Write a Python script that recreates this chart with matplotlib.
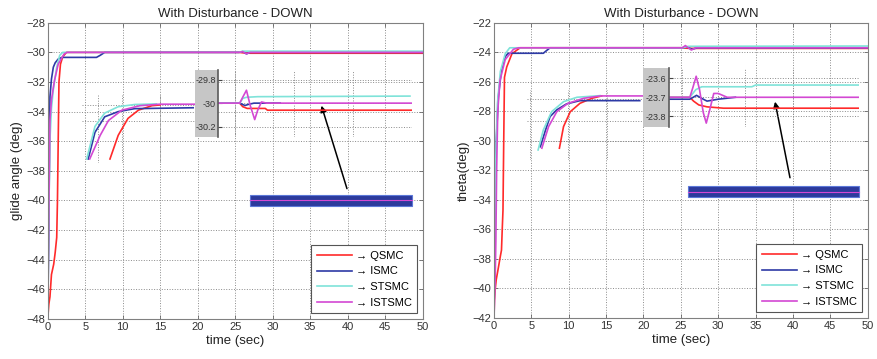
import matplotlib
matplotlib.use('Agg')
import matplotlib.pyplot as plt
from matplotlib.patches import Rectangle

plt.rcParams['font.family'] = ['Liberation Sans', 'DejaVu Sans']

# ---------------- data ----------------
methods = ['QSMC', 'ISMC', 'STSMC', 'ISTSMC']
colors = ['#ff2a2a', '#2d3aa6', '#7fe3d9', '#d348d3']
x_ticks = [0, 5, 10, 15, 20, 25, 30, 35, 40, 45, 50]
ga_yticks = list(range(-48, -27, 2))
th_yticks = list(range(-42, -21, 2))

# glide angle - main curves
ga_qsmc_t = [0, 0.15, 0.3, 0.5, 0.8, 1.0, 1.2, 1.3, 1.4, 1.5, 1.7, 2.0, 2.5, 25.5, 26.0, 27.0, 50]
ga_qsmc = [-48, -47, -46.5, -45.0, -44.3, -43.5, -42.5, -40, -36, -32, -30.8, -30.3, -30.0, -30.0, -30.03, -30.06, -30.06]
ga_ismc_t = [0, 0.15, 0.3, 0.5, 0.75, 1.0, 1.4, 1.9, 6.5, 7.0, 7.6, 25.5, 26.0, 26.5, 27.0, 50]
ga_ismc = [-48, -42, -33, -31.8, -31.0, -30.7, -30.45, -30.34, -30.34, -30.2, -30.0, -30.0, -29.95, -30.1, -30.0, -30.0]
ga_stsmc_t = [0, 0.1, 0.2, 0.3, 0.5, 0.75, 1.2, 1.6, 2.0, 25.5, 26.0, 50]
ga_stsmc = [-48, -43, -39, -35.9, -33.8, -32.5, -31.0, -30.2, -30.0, -30.0, -29.92, -29.92]
ga_istsmc_t = [0, 0.1, 0.2, 0.3, 0.5, 0.9, 1.4, 2.2, 2.6, 25.5, 26.0, 26.5, 27.0, 50]
ga_istsmc = [-48, -43, -38.4, -34.6, -33.2, -31.9, -30.8, -30.1, -30.0, -30.0, -29.95, -30.1, -30.0, -30.0]

# glide angle - zoom of initial response
ga_z1_qsmc_t = [8.3, 9.4, 10.7, 12.1, 13.9, 15.0]
ga_z1_qsmc = [-37.2, -35.6, -34.46, -33.9, -33.6, -33.55]
ga_z1_ismc_t = [5.4, 6.3, 7.6, 9.4, 11.6, 19.4]
ga_z1_ismc = [-37.2, -35.4, -34.35, -34.0, -33.8, -33.74]
ga_z1_stsmc_t = [5.2, 6.3, 7.6, 9.4, 11.6, 14.5]
ga_z1_stsmc = [-37.2, -35.0, -34.1, -33.67, -33.52, -33.48]
ga_z1_istsmc_t = [5.6, 7.0, 8.1, 9.9, 12.3, 14.9, 22.7]
ga_z1_istsmc = [-37.2, -35.6, -34.6, -33.9, -33.6, -33.5, -33.5]

# glide angle - zoom of disturbance
ga_z2_qsmc_t = [22.7, 25.6, 26.0, 26.6, 29.0, 29.3, 48.6]
ga_z2_qsmc = [-30.0, -30.0, -30.03, -30.045, -30.045, -30.06, -30.06]
ga_z2_ismc_t = [22.7, 25.6, 26.3, 26.8, 27.5, 28.5, 31.0]
ga_z2_ismc = [-30.0, -30.0, -30.02, -30.01, -30.0, -30.0, -30.0]
ga_z2_stsmc_t = [22.7, 25.6, 26.0, 26.5, 28.0, 48.3]
ga_z2_stsmc = [-30.0, -30.0, -29.96, -29.95, -29.945, -29.94]
ga_z2_istsmc_t = [22.7, 25.6, 26.0, 26.5, 27.0, 27.6, 28.0, 28.5, 29.2, 48.6]
ga_z2_istsmc = [-30.0, -30.0, -29.95, -29.89, -30.02, -30.14, -30.06, -29.99, -30.0, -30.0]
ga_z2_ticks = [-30.2, -30.0, -29.8]
ga_z2_ticklabels = ['-30.2', '-30', '-29.8']

# theta - main curves
th_qsmc_t = [0, 0.05, 0.15, 0.3, 0.58, 0.8, 1.0, 1.1, 1.2, 1.3, 1.4, 1.7, 2.4, 3.5, 25.2, 25.8, 26.5, 50]
th_qsmc = [-42, -40.8, -40.1, -39.4, -38.6, -37.95, -37.4, -36.0, -34.7, -30.0, -25.7, -25.0, -24.1, -23.7, -23.7, -23.73, -23.74, -23.74]
th_ismc_t = [0, 0.1, 0.3, 0.58, 1.0, 1.5, 1.9, 6.6, 7.0, 7.5, 25.2, 25.8, 26.5, 27.2, 50]
th_ismc = [-42, -36, -30, -27.0, -25.2, -24.3, -24.07, -24.07, -23.9, -23.7, -23.7, -23.65, -23.8, -23.7, -23.7]
th_stsmc_t = [0, 0.1, 0.25, 0.45, 0.85, 1.5, 2.1, 25.2, 26.0, 50]
th_stsmc = [-42, -36, -31, -27.5, -25.3, -24.1, -23.7, -23.7, -23.6, -23.58]
th_istsmc_t = [0, 0.15, 0.25, 0.35, 0.5, 0.8, 1.5, 2.6, 3.3, 25.2, 25.6, 26.4, 27.0, 50]
th_istsmc = [-42, -39.5, -36.7, -32, -28.0, -25.9, -24.5, -23.8, -23.7, -23.7, -23.55, -23.85, -23.7, -23.7]

# theta - zoom of initial response
th_z1_qsmc_t = [8.75, 9.3, 10.2, 11.5, 13.1, 14.4]
th_z1_qsmc = [-30.5, -29.04, -28.03, -27.46, -27.12, -26.96]
th_z1_ismc_t = [6.2, 6.9, 7.5, 8.4, 9.7, 11.5, 19.5]
th_z1_ismc = [-30.4, -29.26, -28.36, -27.9, -27.5, -27.28, -27.28]
th_z1_stsmc_t = [5.9, 6.6, 7.7, 9.3, 11.1, 14.2]
th_z1_stsmc = [-30.62, -29.26, -28.03, -27.35, -27.05, -26.94]
th_z1_istsmc_t = [6.4, 7.3, 8.4, 9.9, 12.0, 14.2, 23.3]
th_z1_istsmc = [-30.5, -29.04, -28.03, -27.46, -27.12, -26.96, -26.96]

# theta - zoom of disturbance
th_z2_qsmc_t = [23.3, 26.2, 26.7, 27.4, 28.5, 30.7, 48.9]
th_z2_qsmc = [-23.7, -23.7, -23.72, -23.74, -23.75, -23.757, -23.757]
th_z2_ismc_t = [23.3, 26.2, 27.1, 28.0, 28.5, 30.0, 32.3]
th_z2_ismc = [-23.71, -23.71, -23.69, -23.71, -23.72, -23.71, -23.70]
th_z2_stsmc_t = [23.3, 26.2, 27.0, 27.8, 34.5, 35.0, 48.9]
th_z2_stsmc = [-23.7, -23.7, -23.66, -23.645, -23.645, -23.636, -23.636]
th_z2_istsmc_t = [23.3, 26.2, 26.6, 27.05, 27.5, 28.0, 28.4, 28.9, 29.4, 30.0, 30.6, 31.2, 48.9]
th_z2_istsmc = [-23.7, -23.7, -23.65, -23.59, -23.66, -23.78, -23.835, -23.76, -23.68, -23.68, -23.69, -23.7, -23.7]
th_z2_ticks = [-23.8, -23.7, -23.6]
th_z2_ticklabels = ['-23.8', '-23.7', '-23.6']

# ---------------- drawing ----------------
GRID = dict(color='#8a8a8a', linestyle=':', linewidth=0.7)
LW = 1.2

fig = plt.figure(figsize=(8.77, 3.59), dpi=100)


def style_main(ax, yticks, ylabel):
    ax.set_xlim(0, 50)
    ax.set_ylim(yticks[0], yticks[-1])
    ax.set_xticks(x_ticks)
    ax.set_yticks(yticks)
    ax.grid(True, **GRID)
    ax.tick_params(direction='in', length=3, width=0.6, color='#666666',
                   labelsize=8, labelcolor='#333333', top=True, right=True, pad=2)
    for s in ax.spines.values():
        s.set_color('#808080')
        s.set_linewidth(0.8)
    ax.set_title('With Disturbance - DOWN', fontsize=9.5, color='#222222', pad=4)
    ax.set_xlabel('time (sec)', fontsize=9.5, color='#222222', labelpad=2)
    ax.set_ylabel(ylabel, fontsize=9.5, color='#222222', labelpad=2)


def style_zoom(axz, xlim, ylim, xg, yg):
    axz.set_xlim(*xlim)
    axz.set_ylim(*ylim)
    axz.set_facecolor('none')
    for s in axz.spines.values():
        s.set_visible(False)
    axz.set_xticks(xg)
    axz.set_yticks(yg)
    axz.tick_params(length=0, labelbottom=False, labelleft=False)
    axz.grid(True, **GRID)


def panel(ax, main, z1, z2, yticks, ylabel, z1_box, z1_xg, z1_yg,
          z2_box, z2_ylim, z2_xg, z2_ticks, z2_labels, gray_box,
          arrow_head, arrow_tail, bar):
    style_main(ax, yticks, ylabel)
    lines = []
    for (t, v), c, m in zip(main, colors, methods):
        ln, = ax.plot(t, v, color=c, lw=LW, label='\u2192 ' + m)
        lines.append(ln)

    # zoom of initial response
    x0, y0, w, h = z1_box
    a1 = ax.inset_axes([x0, y0, w, h], transform=ax.transData)
    style_zoom(a1, (x0, x0 + w), (y0, y0 + h), z1_xg, z1_yg)
    for (t, v), c in zip(z1, colors):
        a1.plot(t, v, color=c, lw=LW)

    # gray label box
    gx, gy, gw, gh = gray_box
    ax.add_patch(Rectangle((gx, gy), gw, gh, facecolor='#c6c6c6',
                           edgecolor='none', zorder=6))

    # zoom of disturbance
    x0, y0, w, h = z2_box
    a2 = ax.inset_axes([x0, y0, w, h], transform=ax.transData, zorder=7)
    style_zoom(a2, (x0, x0 + w), z2_ylim, z2_xg, z2_ticks)
    a2.spines['left'].set_visible(True)
    a2.spines['left'].set_color('#5a5a5a')
    a2.spines['left'].set_linewidth(1.2)
    a2.set_yticks(z2_ticks)
    a2.set_yticklabels(z2_labels)
    a2.tick_params(axis='y', labelleft=True, length=3, direction='in',
                   width=0.8, color='#444444', labelsize=6.5,
                   labelcolor='#333333', pad=1.5)
    for (t, v), c in zip(z2, colors):
        a2.plot(t, v, color=c, lw=LW)

    # arrow
    ax.annotate('', xy=arrow_head, xytext=arrow_tail,
                arrowprops=dict(arrowstyle='-|>', color='black', lw=1.1,
                                mutation_scale=9, shrinkA=0, shrinkB=0))

    # highlight bar
    bx0, bx1, by0, by1 = bar
    ax.add_patch(Rectangle((bx0, by0), bx1 - bx0, by1 - by0,
                           facecolor='#2c3a9c', edgecolor='#5c78d8',
                           lw=0.8, zorder=4))
    ax.plot([bx0, bx1], [(by0 + by1) / 2] * 2, color=colors[3], lw=0.8, zorder=5)

    leg = ax.legend(handles=lines, loc='lower right', bbox_to_anchor=(0.985, 0.02),
                    borderaxespad=0, fontsize=8, handlelength=3.2,
                    handletextpad=0.3, labelspacing=0.5, fancybox=False,
                    framealpha=1, edgecolor='#555555', borderpad=0.5)
    leg.get_frame().set_linewidth(0.8)
    leg.set_zorder(10)


ax1 = fig.add_axes([0.0544, 0.1114, 0.4276, 0.8253])
panel(ax1,
      [(ga_qsmc_t, ga_qsmc), (ga_ismc_t, ga_ismc), (ga_stsmc_t, ga_stsmc), (ga_istsmc_t, ga_istsmc)],
      [(ga_z1_qsmc_t, ga_z1_qsmc), (ga_z1_ismc_t, ga_z1_ismc), (ga_z1_stsmc_t, ga_z1_stsmc), (ga_z1_istsmc_t, ga_z1_istsmc)],
      [(ga_z2_qsmc_t, ga_z2_qsmc), (ga_z2_ismc_t, ga_z2_ismc), (ga_z2_stsmc_t, ga_z2_stsmc), (ga_z2_istsmc_t, ga_z2_istsmc)],
      ga_yticks, 'glide angle (deg)',
      z1_box=(4.6, -37.5, 15.04, 4.6), z1_xg=[6.7, 9.9, 15.0], z1_yg=[-34.64, -33.56],
      z2_box=(22.7, -35.72, 25.9, 4.52), z2_ylim=(-30.289, -29.719),
      z2_xg=[25.0, 32.9, 40.7], z2_ticks=ga_z2_ticks, z2_labels=ga_z2_ticklabels,
      gray_box=(19.64, -35.72, 3.06, 4.52),
      arrow_head=(36.5, -33.6), arrow_tail=(39.9, -39.2),
      bar=(27.0, 48.6, -40.35, -39.6))

ax2 = fig.add_axes([0.5633, 0.1142, 0.4261, 0.8226])
panel(ax2,
      [(th_qsmc_t, th_qsmc), (th_ismc_t, th_ismc), (th_stsmc_t, th_stsmc), (th_istsmc_t, th_istsmc)],
      [(th_z1_qsmc_t, th_z1_qsmc), (th_z1_ismc_t, th_z1_ismc), (th_z1_stsmc_t, th_z1_stsmc), (th_z1_istsmc_t, th_z1_istsmc)],
      [(th_z2_qsmc_t, th_z2_qsmc), (th_z2_ismc_t, th_z2_ismc), (th_z2_stsmc_t, th_z2_stsmc), (th_z2_istsmc_t, th_z2_istsmc)],
      th_yticks, 'theta(deg)',
      z1_box=(4.4, -31.3, 15.5, 4.73), z1_xg=[4.8, 9.95, 15.1], z1_yg=[-30.0, -28.63, -27.17],
      z2_box=(23.35, -29.06, 25.55, 3.99), z2_ylim=(-23.855, -23.547),
      z2_xg=[25.1, 33.6, 40.0], z2_ticks=th_z2_ticks, z2_labels=th_z2_ticklabels,
      gray_box=(19.9, -29.06, 3.45, 3.99),
      arrow_head=(37.6, -27.35), arrow_tail=(39.6, -32.5),
      bar=(26.0, 48.9, -33.8, -33.07))

fig.savefig('out.png', dpi=100)
